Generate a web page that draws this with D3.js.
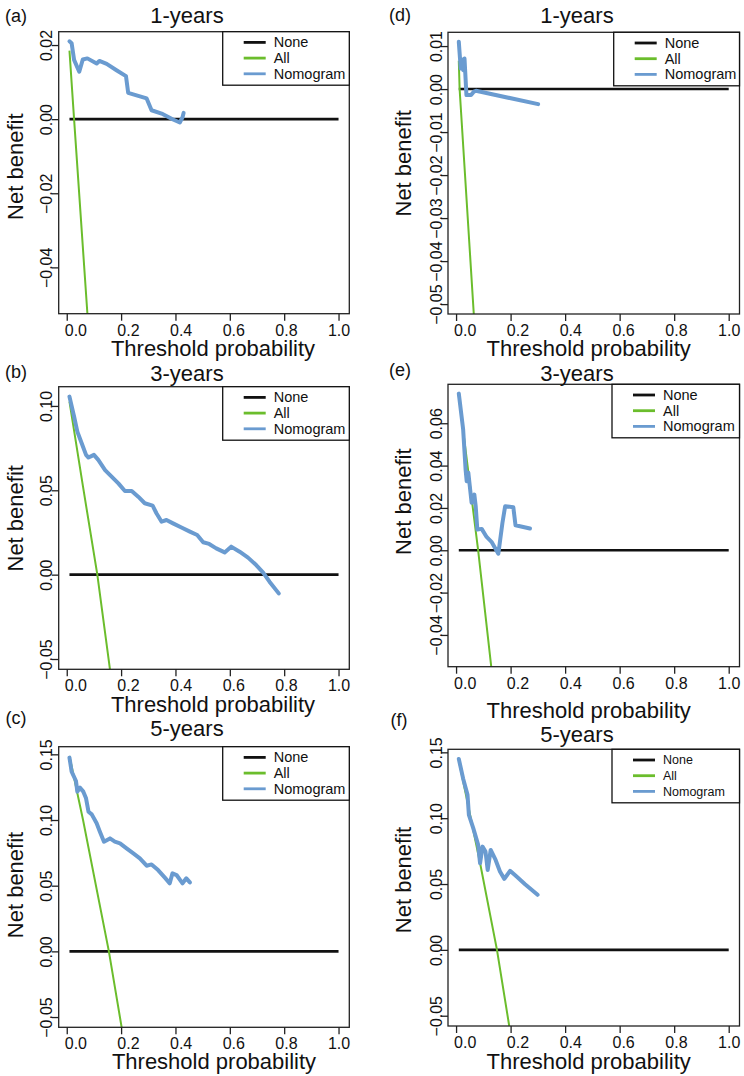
<!DOCTYPE html>
<html>
<head>
<meta charset="utf-8">
<script src="https://cdn.jsdelivr.net/npm/d3@7"></script>
<style>
  body { margin: 0; background: #fff; }
  svg { display: block; font-family: "Liberation Sans", Arial, sans-serif; }
</style>
</head>
<body>
<svg id="svg" width="744" height="1076"></svg>
<script>
// ---- data ----
var xTicks = [0, 0.2, 0.4, 0.6, 0.8, 1.0];
var noneX = [0.01, 1.0];
var legendLabels = ["None", "All", "Nomogram"];
var panelTags = ["(a)", "(b)", "(c)", "(d)", "(e)", "(f)"];
var panelTitles = ["1-years", "3-years", "5-years", "1-years", "3-years", "5-years"];

var yTicksA = [-0.04, -0.02, 0, 0.02];
var yTicksB = [-0.05, 0, 0.05, 0.10];
var yTicksC = [-0.05, 0, 0.05, 0.10, 0.15];
var yTicksD = [-0.05, -0.04, -0.03, -0.02, -0.01, 0, 0.01];
var yTicksE = [-0.04, -0.02, 0, 0.02, 0.04, 0.06];
var yTicksF = [-0.05, 0, 0.05, 0.10, 0.15];

var allA = [[0.01, 0.0185], [0.027, 0], [0.076, -0.0525]];
var allB = [[0.01, 0.1026], [0.06, 0.052], [0.1125, 0], [0.159, -0.0561]];
var allC = [[0.01, 0.1487], [0.06, 0.100], [0.155, 0], [0.202, -0.0578]];
var allD = [[0.01, 0.0066], [0.013, 0], [0.065, -0.0523]];
var allE = [[0.01, 0.073], [0.026, 0.0565], [0.081, 0], [0.129, -0.055]];
var allF = [[0.01, 0.144], [0.088, 0.066], [0.15, 0], [0.195, -0.0578]];

var nomA = [[0.01, 0.0210], [0.018, 0.0205], [0.027, 0.0160], [0.046, 0.0128], [0.059, 0.0161],
  [0.076, 0.0164], [0.11, 0.0150], [0.12, 0.0157], [0.147, 0.0149], [0.183, 0.0132],
  [0.218, 0.0116], [0.226, 0.0071], [0.294, 0.0056], [0.312, 0.0024], [0.349, 0.0015],
  [0.391, -0.0001], [0.416, -0.0009], [0.426, 0.0005], [0.43, 0.0017]];
var nomB = [[0.01, 0.1055], [0.027, 0.0937], [0.039, 0.0848], [0.055, 0.0779], [0.071, 0.0710],
  [0.08, 0.0694], [0.10, 0.0710], [0.116, 0.0680], [0.141, 0.0620], [0.165, 0.0581],
  [0.19, 0.0541], [0.214, 0.0496], [0.239, 0.0496], [0.263, 0.0462], [0.287, 0.0423],
  [0.316, 0.0409], [0.33, 0.0364], [0.349, 0.0314], [0.367, 0.0324], [0.391, 0.0304],
  [0.422, 0.0279], [0.453, 0.0255], [0.48, 0.0235], [0.502, 0.0192], [0.524, 0.0182],
  [0.55, 0.0156], [0.581, 0.0132], [0.605, 0.0166], [0.636, 0.0136], [0.667, 0.0101],
  [0.697, 0.0057], [0.722, 0.0014], [0.746, -0.0042], [0.78, -0.0111]];
var nomC = [[0.01, 0.1475], [0.018, 0.1368], [0.034, 0.1297], [0.039, 0.1216], [0.049, 0.1246],
  [0.061, 0.1216], [0.071, 0.1165], [0.08, 0.1063], [0.092, 0.1043], [0.11, 0.0975],
  [0.122, 0.0911], [0.137, 0.0835], [0.159, 0.0860], [0.177, 0.0835], [0.196, 0.0822],
  [0.22, 0.0784], [0.245, 0.0746], [0.269, 0.0708], [0.294, 0.0652], [0.312, 0.0662],
  [0.336, 0.0619], [0.361, 0.0561], [0.379, 0.0518], [0.389, 0.0594], [0.404, 0.0581],
  [0.426, 0.0518], [0.44, 0.0556], [0.453, 0.0525]];
var nomD = [[0.01, 0.0110], [0.017, 0.0048], [0.022, 0.0069], [0.026, 0.0044], [0.031, 0.0071],
  [0.038, -0.0014], [0.055, -0.0014], [0.065, -0.0006], [0.073, -0.0004], [0.301, -0.0035]];
var nomE = [[0.01, 0.074], [0.026, 0.057], [0.035, 0.038], [0.039, 0.0326], [0.045, 0.0366],
  [0.057, 0.0224], [0.067, 0.0263], [0.072, 0.0208], [0.078, 0.0098], [0.094, 0.0101],
  [0.112, 0.0063], [0.13, 0.0040], [0.155, -0.0016], [0.17, 0.0129], [0.18, 0.0208],
  [0.21, 0.0203], [0.218, 0.0118], [0.271, 0.0103]];
var nomF = [[0.01, 0.145], [0.026, 0.130], [0.042, 0.1177], [0.047, 0.1025], [0.063, 0.0924],
  [0.081, 0.0797], [0.088, 0.0658], [0.097, 0.0784], [0.108, 0.0746], [0.116, 0.0607],
  [0.127, 0.0759], [0.145, 0.0683], [0.161, 0.0595], [0.177, 0.0539], [0.198, 0.0600],
  [0.222, 0.0557], [0.253, 0.0499], [0.299, 0.0418]];

// ---- layout (pixels) ----
var layout = [
  {box:[58.7, 31.7, 349.3, 313.7],  yDom:[-0.0525, 0.0236], yT:yTicksA, all:allA, nom:nomA,
   tag:[16, 15.7], title:[187, 15.7], xlab:[213, 348.5], ylab:[15, 166.7], leg:[222.7, 31.7, 14.5]},
  {box:[58.7, 386.7, 349.3, 669.3], yDom:[-0.0561, 0.1114], yT:yTicksB, all:allB, nom:nomB,
   tag:[16, 371.7], title:[187, 373.5], xlab:[213, 704.5], ylab:[15, 518.3], leg:[222.7, 386.7, 14.5]},
  {box:[58.7, 746.7, 349.3, 1027.3], yDom:[-0.0578, 0.1558], yT:yTicksC, all:allC, nom:nomC,
   tag:[16, 718], title:[187, 728.3], xlab:[214, 1061.5], ylab:[15, 885], leg:[222.7, 746.7, 14.5]},
  {box:[448, 32.3, 739.5, 314],     yDom:[-0.0523, 0.0132], yT:yTicksD, all:allD, nom:nomD,
   tag:[400, 15], title:[577, 15.7], xlab:[588.7, 348.5], ylab:[403.7, 163.3], leg:[613.7, 32.3, 14.5]},
  {box:[448, 384.3, 739.5, 666.7],  yDom:[-0.0550, 0.0784], yT:yTicksE, all:allE, nom:nomE,
   tag:[400, 370], title:[577, 373.3], xlab:[588.7, 710.7], ylab:[403.7, 501.7], leg:[612, 384.3, 14.5]},
  {box:[448, 749.3, 739.5, 1026],   yDom:[-0.0578, 0.1523], yT:yTicksF, all:allF, nom:nomF,
   tag:[399, 720], title:[577, 734.3], xlab:[588.7, 1061.5], ylab:[403.7, 880], leg:[612, 749.3, 12.5]}
];

var colNone = "#111", colAll = "#6bbd2c", colNom = "#6a9bd0", colAxis = "#222";
var fmt = function(v) { var s = d3.format(".2f")(Math.abs(v)); return v < 0 ? "\u2212" + s : s; };
var fmtX = d3.format(".1f");

// small stand-in for d3-selection-multi
d3.selection.prototype.attrs = function(o) {
  for (var k in o) this.attr(k, o[k]);
  return this;
};

var svg = d3.select("#svg"), defs = svg.append("defs");

layout.forEach(function(p, i) {
  var b = p.box;
  var x = d3.scaleLinear().domain([-0.0296, 1.0396]).range([b[0], b[2]]);
  var y = d3.scaleLinear().domain(p.yDom).range([b[3], b[1]]);
  var line = d3.line().x(d => x(d[0])).y(d => y(d[1]));
  var g = svg.append("g");

  defs.append("clipPath").attr("id", "clip" + i).append("rect")
    .attrs({x: b[0], y: b[1], width: b[2] - b[0], height: b[3] - b[1]});

  var plot = g.append("g").attr("clip-path", "url(#clip" + i + ")");
  plot.append("path").datum(noneX.map(v => [v, 0])).attr("d", line)
    .attrs({fill: "none", stroke: colNone, "stroke-width": 2.6});
  plot.append("path").datum(p.all).attr("d", line)
    .attrs({fill: "none", stroke: colAll, "stroke-width": 2});
  plot.append("path").datum(p.nom).attr("d", line)
    .attrs({fill: "none", stroke: colNom, "stroke-width": 4, "stroke-linejoin": "round", "stroke-linecap": "round"});

  // frame
  g.append("rect").attrs({x: b[0], y: b[1], width: b[2] - b[0], height: b[3] - b[1],
    fill: "none", stroke: colAxis, "stroke-width": 1.3});

  // x axis (labels sit a little right of their ticks on the left side, as in the figure)
  var xa = g.append("g").attr("transform", "translate(0," + b[3] + ")")
    .call(d3.axisBottom(x).tickValues(xTicks).tickSize(7).tickSizeOuter(0).tickFormat(fmtX));
  xa.select(".domain").remove();
  xa.attr("font-family", null).attr("font-size", null);
  xa.selectAll("line").attrs({stroke: colAxis, "stroke-width": 1.3});
  xa.selectAll("text").attrs({y: 16.5, dy: "0.35em", fill: "#111", "font-size": 16})
    .attr("dx", d => 8.6 * (1 - d));

  // y axis
  var ya = g.append("g").attr("transform", "translate(" + b[0] + ",0)")
    .call(d3.axisLeft(y).tickValues(p.yT).tickSize(7).tickSizeOuter(0).tickFormat(fmt));
  ya.select(".domain").remove();
  ya.attr("font-family", null).attr("font-size", null);
  ya.selectAll("line").attrs({stroke: colAxis, "stroke-width": 1.3});
  ya.selectAll("text").attrs({x: 0, y: 0, dy: "0.35em", transform: "translate(-12,0) rotate(-90)",
    "text-anchor": "middle", fill: "#111", "font-size": 16});

  // legend
  var L = p.leg, lw = b[2] - L[0];
  var lg = g.append("g").attr("transform", "translate(" + L[0] + "," + L[1] + ")");
  lg.append("rect").attrs({width: lw, height: 53.5, fill: "#fff", stroke: "#111", "stroke-width": 1.3});
  var rows = lg.selectAll(".row").data(legendLabels).enter().append("g")
    .attr("transform", (_, k) => "translate(0," + (10.7 + k * 15.7) + ")");
  rows.append("line").attr("x1", 21).attr("x2", 43)
    .attr("stroke", (_, k) => [colNone, colAll, colNom][k]).attr("stroke-width", 2.8);
  rows.append("text").attrs({x: 51, dy: "0.35em", "font-size": L[2], fill: "#111"}).text(d => d);

  // labels
  g.append("text").attrs({x: p.tag[0], y: p.tag[1], dy: "0.35em", "text-anchor": "middle", "font-size": 18, fill: "#111"})
    .text(panelTags[i]);
  g.append("text").attrs({x: p.title[0], y: p.title[1], dy: "0.35em", "text-anchor": "middle", "font-size": 22, fill: "#111"})
    .text(panelTitles[i]);
  g.append("text").attrs({x: p.xlab[0], y: p.xlab[1], dy: "0.35em", "text-anchor": "middle", "font-size": 22, fill: "#111"})
    .text("Threshold probability");
  g.append("text").attrs({transform: "translate(" + p.ylab[0] + "," + p.ylab[1] + ") rotate(-90)",
    dy: "0.35em", "text-anchor": "middle", "font-size": 22, fill: "#111"})
    .text("Net benefit");
});
</script>
</body>
</html>
